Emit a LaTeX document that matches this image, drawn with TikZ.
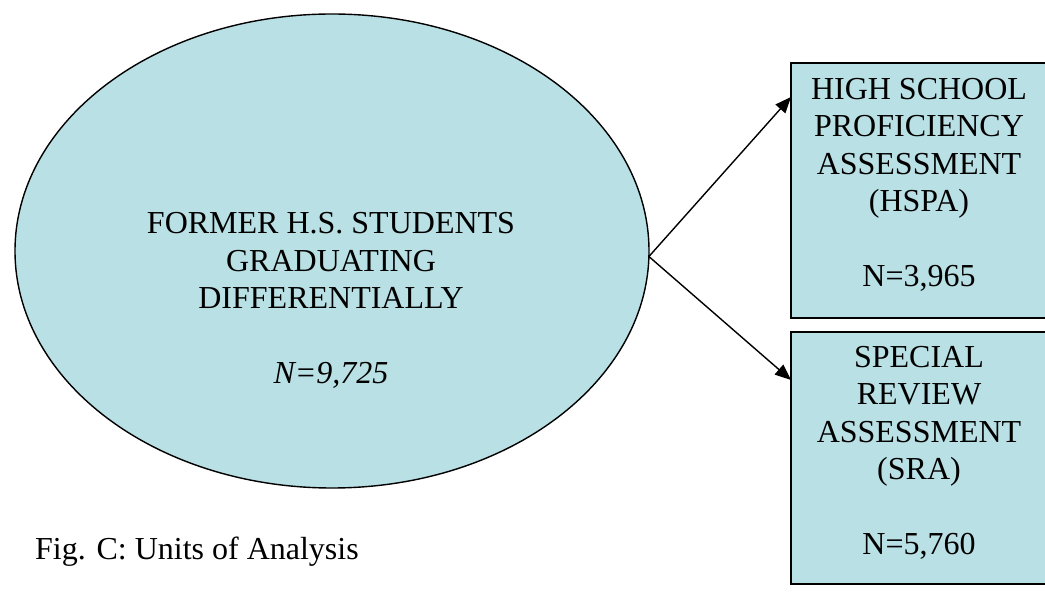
\documentclass[tikz,border=0pt]{standalone}
\usepackage{fontspec}
\setmainfont{Liberation Serif}
\usetikzlibrary{shapes.geometric,arrows.meta,calc}
\definecolor{unitfill}{RGB}{185,224,228}
\begin{document}
\begin{tikzpicture}[x=1pt,y=-1pt,
  unitellipse/.style={ellipse,draw=black,line width=1.4pt,fill=unitfill,
    minimum width=634pt,minimum height=474pt,inner sep=0pt,outer sep=0pt},
  unitbox/.style={rectangle,draw=black,line width=1.8pt,fill=unitfill,
    minimum width=256pt,inner sep=0pt,outer sep=0pt},
  unitlabel/.style={align=center,inner sep=0pt,anchor=north,
    font=\fontsize{32}{37.5}\selectfont},
  captiontext/.style={inner sep=0pt,anchor=base west,
    font=\fontsize{32}{37.5}\selectfont},
  flow/.style={line width=1.4pt,-{Triangle[length=16pt,width=13pt]}}]
\useasboundingbox (0,0) rectangle (1045,593);
\clip (0,0) rectangle (1045,593);

% population and its two sub-groups
\node[unitellipse] (pop) at (332,251) {};
\node[unitbox,minimum height=255pt] (hspa) at (919,190.5) {};
\node[unitbox,minimum height=252pt] (sra) at (919,458) {};

% labels
\node[unitlabel] (poptext) at (331,212.4)
  {FORMER H.S. STUDENTS\\GRADUATING\\DIFFERENTIALLY\\[37.5pt]\textit{N=9,725}};
\node[unitlabel] (hspatext) at (919,78)
  {HIGH SCHOOL\\PROFICIENCY\\ASSESSMENT\\(HSPA)\\[37.5pt]N=3,965};
\node[unitlabel] (sratext) at (919,346)
  {SPECIAL\\REVIEW\\ASSESSMENT\\(SRA)\\[37.5pt]N=5,760};

\node[captiontext] (caption) at (35,559) {Fig. C: Units of Analysis};

% connectors
\coordinate (split) at (pop.-1.3);
\draw[flow] (split) -- ($(hspa.north west)+(0,34)$);
\draw[flow] (split) -- ($(sra.north west)+(0,48)$);
\end{tikzpicture}
\end{document}
